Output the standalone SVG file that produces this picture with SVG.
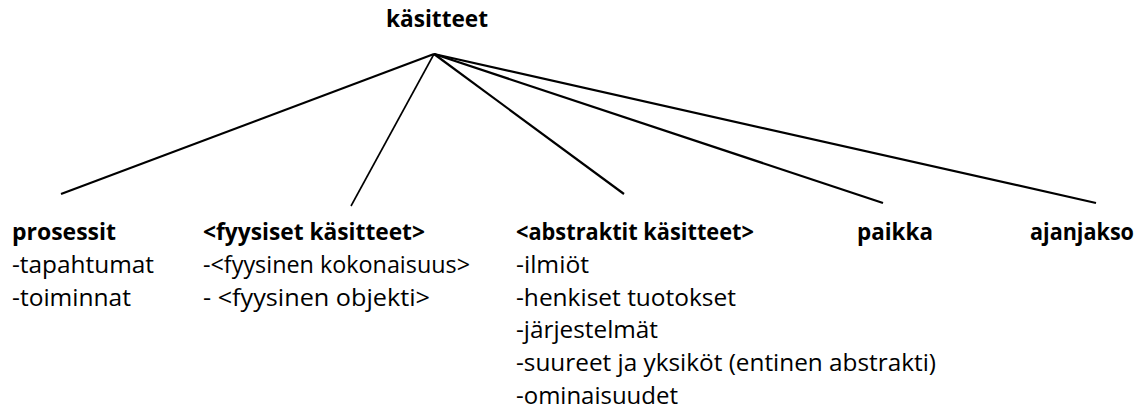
<svg xmlns="http://www.w3.org/2000/svg" width="1141" height="414" viewBox="0 0 1141 414">
<style>
text{font-family:"Open Sans","Noto Sans","Liberation Sans",sans-serif;font-size:24px;fill:#000}
.b{font-weight:bold}
.ln{stroke:#000;stroke-width:2.2;fill:none;stroke-linecap:butt}
</style>
<rect width="1141" height="414" fill="#fff"/>
<g id="connectors">
<line class="ln" x1="434" y1="54" x2="61" y2="194"/>
<line class="ln" x1="434" y1="54" x2="351" y2="206" style="stroke-width:1.6"/>
<line class="ln" x1="434" y1="54" x2="624" y2="194"/>
<line class="ln" x1="434" y1="54" x2="883" y2="203"/>
<line class="ln" x1="434" y1="54" x2="1096" y2="203"/>
</g>
<g id="root">
<text class="b" x="386" y="27" textLength="102" lengthAdjust="spacingAndGlyphs">käsitteet</text>
</g>
<g id="prosessit">
<text class="b" x="12" y="240" textLength="104" lengthAdjust="spacingAndGlyphs">prosessit</text>
<text x="12" y="273" textLength="142" lengthAdjust="spacingAndGlyphs">-tapahtumat</text>
<text x="12" y="305.6" textLength="119" lengthAdjust="spacingAndGlyphs">-toiminnat</text>
</g>
<g id="fyysiset">
<text class="b" x="203" y="240" textLength="222" lengthAdjust="spacingAndGlyphs">&lt;fyysiset käsitteet&gt;</text>
<text x="203" y="273" textLength="267" lengthAdjust="spacingAndGlyphs">-&lt;fyysinen kokonaisuus&gt;</text>
<text x="203" y="305.6" textLength="227" lengthAdjust="spacingAndGlyphs">- &lt;fyysinen objekti&gt;</text>
</g>
<g id="abstraktit">
<text class="b" x="516" y="240" textLength="238" lengthAdjust="spacingAndGlyphs">&lt;abstraktit käsitteet&gt;</text>
<text x="516" y="272.8" textLength="73" lengthAdjust="spacingAndGlyphs">-ilmiöt</text>
<text x="516" y="305.6" textLength="220" lengthAdjust="spacingAndGlyphs">-henkiset tuotokset</text>
<text x="516" y="338.4" textLength="142" lengthAdjust="spacingAndGlyphs">-järjestelmät</text>
<text x="516" y="371.2" textLength="420" lengthAdjust="spacingAndGlyphs">-suureet ja yksiköt (entinen abstrakti)</text>
<text x="516" y="404" textLength="162" lengthAdjust="spacingAndGlyphs">-ominaisuudet</text>
</g>
<g id="paikka">
<text class="b" x="857" y="240" textLength="76" lengthAdjust="spacingAndGlyphs">paikka</text>
</g>
<g id="ajanjakso">
<text class="b" x="1030" y="240" textLength="104" lengthAdjust="spacingAndGlyphs">ajanjakso</text>
</g>
</svg>
